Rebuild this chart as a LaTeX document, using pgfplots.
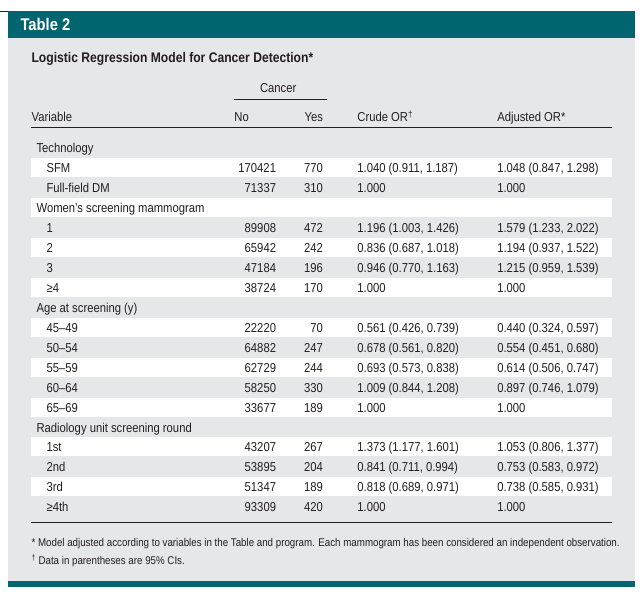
\documentclass[border=0pt]{standalone}
\usepackage{pgfplots}
\pgfplotsset{compat=1.18}
\usepackage{pgfplotstable}
\usepackage{fontspec}
\setmainfont{Liberation Sans}[FakeStretch=0.87]
\definecolor{tealbar}{RGB}{0,101,111}
\definecolor{bggrey}{RGB}{230,231,232}
\definecolor{ink}{RGB}{35,31,32}
\newcommand\fs{\fontsize{13}{15}\selectfont}
\newcommand\fn{\fontsize{11.25}{13}\selectfont}

\pgfplotstableread[col sep=semicolon,row sep=\\]{
row;label\\
0;Technology\\
3;Women’s screening mammogram\\
8;Age at screening (y)\\
14;Radiology unit screening round\\
}\groups

\pgfplotstableread[col sep=semicolon,row sep=\\]{
row;label;no;yes;crude;adj\\
1;SFM;170421;770;1.040 (0.911, 1.187);1.048 (0.847, 1.298)\\
2;Full-field DM;71337;310;1.000;1.000\\
4;1;89908;472;1.196 (1.003, 1.426);1.579 (1.233, 2.022)\\
5;2;65942;242;0.836 (0.687, 1.018);1.194 (0.937, 1.522)\\
6;3;47184;196;0.946 (0.770, 1.163);1.215 (0.959, 1.539)\\
7;≥4;38724;170;1.000;1.000\\
9;45–49;22220;70;0.561 (0.426, 0.739);0.440 (0.324, 0.597)\\
10;50–54;64882;247;0.678 (0.561, 0.820);0.554 (0.451, 0.680)\\
11;55–59;62729;244;0.693 (0.573, 0.838);0.614 (0.506, 0.747)\\
12;60–64;58250;330;1.009 (0.844, 1.208);0.897 (0.746, 1.079)\\
13;65–69;33677;189;1.000;1.000\\
15;1st;43207;267;1.373 (1.177, 1.601);1.053 (0.806, 1.377)\\
16;2nd;53895;204;0.841 (0.711, 0.994);0.753 (0.583, 0.972)\\
17;3rd;51347;189;0.818 (0.689, 0.971);0.738 (0.585, 0.931)\\
18;≥4th;93309;420;1.000;1.000\\
}\items

\pgfplotsset{
  celltext/.style={draw=none, mark=none, point meta=explicit symbolic,
    nodes near coords={\pgfplotspointmeta},
    every node near coord/.append style={anchor=#1, inner sep=0pt, font=\fs, text=ink}},
}

\begin{document}
\begin{tikzpicture}
\begin{axis}[
  scale only axis, width=643bp, height=594bp,
  xmin=0, xmax=643, ymin=0, ymax=594, y dir=reverse,
  hide axis, clip=false,
]
% page and frame
\fill[white] (axis cs:0,0) rectangle (axis cs:643,594);
\fill[bggrey] (axis cs:8,38) rectangle (axis cs:635,581);
\fill[tealbar] (axis cs:8,11) rectangle (axis cs:635,38);
\fill[tealbar] (axis cs:8,581) rectangle (axis cs:635,587);
\draw[ink, line width=0.8pt] (axis cs:0,11) -- (axis cs:8,11);
% white row bands
\pgfplotsinvokeforeach{1,3,5,7,9,11,13,15,17}{
  \fill[white] (axis cs:31,{138.5+19.95*#1}) rectangle (axis cs:612,{157.5+19.95*#1});
}
% rules
\draw[ink, line width=0.8pt] (axis cs:234,99) -- (axis cs:327,99);
\draw[ink, line width=0.8pt] (axis cs:31,127) -- (axis cs:612,127);
\draw[ink, line width=0.8pt] (axis cs:31,523) -- (axis cs:612,523);
% titles and headers
\node[anchor=base west, inner sep=0pt, text=white, font=\fontsize{17}{19}\selectfont\bfseries] at (axis cs:20,31) {Table 2};
\node[anchor=base west, inner sep=0pt, text=ink, font=\fontsize{14}{16}\selectfont\bfseries] at (axis cs:31,63) {Logistic Regression Model for Cancer Detection*};
\node[anchor=base, inner sep=0pt, text=ink, font=\fs] at (axis cs:278,93) {Cancer};
\node[anchor=base west, inner sep=0pt, text=ink, font=\fs] at (axis cs:31,122) {Variable};
\node[anchor=base west, inner sep=0pt, text=ink, font=\fs] at (axis cs:234,122) {No};
\node[anchor=base east, inner sep=0pt, text=ink, font=\fs] at (axis cs:323,122) {Yes};
\node[anchor=base west, inner sep=0pt, text=ink, font=\fs] at (axis cs:357,122) {Crude OR\textsuperscript{†}};
\node[anchor=base west, inner sep=0pt, text=ink, font=\fs] at (axis cs:497,122) {Adjusted OR*};
% body
\addplot[celltext=base west] table[x expr=36, y expr=153+19.95*\thisrow{row}, meta=label] {\groups};
\addplot[celltext=base west] table[x expr=46, y expr=153+19.95*\thisrow{row}, meta=label] {\items};
\addplot[celltext=base east] table[x expr=276, y expr=153+19.95*\thisrow{row}, meta=no] {\items};
\addplot[celltext=base east] table[x expr=323, y expr=153+19.95*\thisrow{row}, meta=yes] {\items};
\addplot[celltext=base west] table[x expr=357, y expr=153+19.95*\thisrow{row}, meta=crude] {\items};
\addplot[celltext=base west] table[x expr=497, y expr=153+19.95*\thisrow{row}, meta=adj] {\items};
% footnotes
\node[anchor=base west, inner sep=0pt, text=ink, font=\fn] at (axis cs:31,547) {* Model adjusted according to variables in the Table and program. Each mammogram has been considered an independent observation.};
\node[anchor=base west, inner sep=0pt, text=ink, font=\fn] at (axis cs:31,565) {\textsuperscript{†} Data in parentheses are 95\% CIs.};
\end{axis}
\end{tikzpicture}
\end{document}
